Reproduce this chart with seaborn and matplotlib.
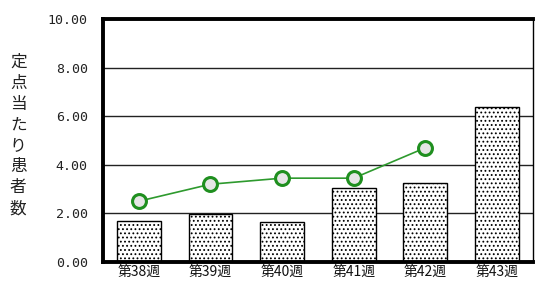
import matplotlib
matplotlib.use("Agg")
import matplotlib.pyplot as plt
import seaborn as sns
import pandas as pd

weeks = ["第38週", "第39週", "第40週", "第41週", "第42週", "第43週"]
bar_values = [1.70, 1.98, 1.65, 3.05, 3.25, 6.38]
line_weeks = ["第38週", "第39週", "第40週", "第41週", "第42週"]
line_values = [2.50, 3.20, 3.45, 3.45, 4.70]
y_label = "定点当たり患者数"
y_ticks = [0, 2, 4, 6, 8, 10]

sns.set_theme(style="white")
plt.rcParams["font.family"] = ["Noto Sans CJK JP", "DejaVu Sans"]
plt.rcParams["hatch.linewidth"] = 0.8

fig = plt.figure(figsize=(5.36, 2.84), dpi=100)
ax = fig.add_axes([0.192, 0.0775, 0.802, 0.8555])

bars = pd.DataFrame({"week": weeks, "value": bar_values})
sns.barplot(data=bars, x="week", y="value", order=weeks, color="white",
            edgecolor="black", linewidth=1.0, width=0.61, saturation=1, ax=ax, zorder=2)
for p in ax.patches:
    p.set_hatch("....")
    p.set_facecolor("white")
    p.set_edgecolor("black")

line = pd.DataFrame({"week": line_weeks, "value": line_values})
sns.pointplot(data=line, x="week", y="value", order=weeks, color="#2e9a2e",
              markers="o", markersize=10, markerfacecolor="#e6e6e6",
              markeredgecolor="#1f8f1f", markeredgewidth=2.2, linewidth=1.2,
              errorbar=None, ax=ax, zorder=3)

ax.set_xlim(-0.5, 5.5)
ax.set_ylim(0, 10)
ax.set_yticks(y_ticks)
ax.set_yticklabels([f"{v:.2f}" for v in y_ticks], family="DejaVu Sans Mono",
                   fontsize=9.5, color="#222222")
ax.set_xticks(range(len(weeks)))
ax.set_xticklabels(weeks, fontsize=10, color="#111111")
ax.tick_params(axis="both", length=0, pad=2)
ax.tick_params(axis="y", pad=11)
ax.set_xlabel("")
ax.set_ylabel("")
for y in y_ticks[1:-1]:
    ax.axhline(y, color="#222222", linewidth=1, zorder=1)

for side in ["left", "bottom", "top"]:
    ax.spines[side].set_linewidth(2.8)
    ax.spines[side].set_color("black")
ax.spines["right"].set_linewidth(1)
ax.spines["right"].set_color("black")

fig.text(0.034, 0.523, "\n".join(y_label), ha="center", va="center",
         fontsize=12, linespacing=1.3, color="#222222")

fig.savefig("out.png", dpi=100)
